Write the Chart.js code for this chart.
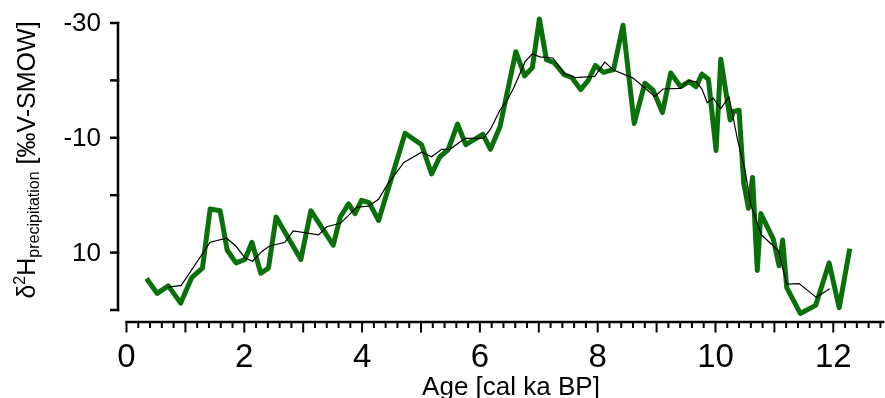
<!DOCTYPE html>
<html>
<head>
<meta charset="utf-8">
<script src="https://cdn.jsdelivr.net/npm/chart.js@4.4.1/dist/chart.umd.min.js"></script>
<style>
  html, body { margin: 0; padding: 0; background: #fff; }
  #wrap { width: 885px; height: 398px; }
</style>
</head>
<body>
<div id="wrap"><canvas id="c" width="885" height="398"></canvas></div>
<script>
// Reconstructed precipitation δ2H record (age in cal ka BP, value in ‰ V-SMOW)
const ageRecord = [0.34, 0.52, 0.71, 0.92, 1.11, 1.29, 1.42, 1.59, 1.71, 1.86,
  2.01, 2.13, 2.28, 2.41, 2.54, 2.96, 3.13, 3.51, 3.63, 3.77,
  3.88, 3.99, 4.12, 4.28, 4.73, 5.01, 5.18, 5.32, 5.46, 5.62,
  5.76, 6.05, 6.18, 6.34, 6.61, 6.76, 6.89, 7.01, 7.13, 7.26,
  7.43, 7.56, 7.71, 7.84, 7.96, 8.10, 8.27, 8.43, 8.62, 8.80,
  8.94, 9.10, 9.24, 9.41, 9.55, 9.67, 9.77, 9.88, 10.01, 10.09,
  10.25, 10.31, 10.40, 10.48, 10.56, 10.63, 10.71, 10.77, 10.98, 11.08,
  11.14, 11.21, 11.44, 11.70, 11.93, 12.10, 12.28];
const dHRecord = [14.5, 17.1, 15.8, 18.8, 14.3, 12.7, 2.4, 2.7, 9.6, 11.8,
  11.2, 8.2, 13.6, 12.7, 3.8, 11.2, 2.7, 8.7, 3.8, 1.5,
  3.2, 0.9, 1.3, 4.4, -10.8, -8.8, -3.7, -6.7, -7.9, -12.4,
  -8.8, -10.6, -8.0, -11.9, -25.0, -20.8, -22.2, -30.7, -23.6, -23.1,
  -21.0, -20.5, -18.4, -20.0, -22.6, -21.4, -21.9, -29.6, -12.5, -19.5,
  -18.3, -14.4, -21.3, -18.9, -19.8, -18.9, -21.1, -20.2, -7.8, -23.7,
  -13.1, -14.6, -14.8, -2.1, 2.3, -3.1, 13.1, 3.2, 7.6, 12.3,
  7.8, 16.1, 20.6, 19.2, 11.8, 19.6, 9.3];

// Smoothed curve of the same record
const ageSmooth = [0.71, 0.93, 1.42, 1.70, 1.86, 2.01, 2.14, 2.30, 2.42, 2.69,
  2.83, 3.26, 3.40, 3.63, 3.91, 4.11, 4.28, 4.42, 4.71, 5.01,
  5.18, 5.35, 5.49, 5.75, 6.06, 6.18, 6.34, 6.46, 6.57, 6.77,
  6.89, 7.02, 7.24, 7.43, 7.62, 7.95, 8.12, 8.27, 8.60, 8.97,
  9.11, 9.40, 9.55, 9.68, 9.77, 9.86, 9.96, 10.09, 10.23, 10.38,
  10.50, 10.60, 10.78, 11.07, 11.21, 11.42, 11.71, 11.94];
const dHSmooth = [16.0, 15.7, 8.2, 7.5, 8.9, 10.9, 11.5, 9.8, 8.9, 8.2,
  6.2, 6.9, 5.5, 4.9, 2.1, 1.9, 0.7, -1.7, -5.7, -7.5,
  -6.7, -8.0, -8.0, -9.9, -9.9, -11.5, -14.8, -16.5, -18.6, -23.3,
  -24.6, -24.1, -23.9, -21.2, -20.5, -20.7, -23.2, -21.8, -20.4, -17.2,
  -18.5, -18.6, -20.0, -19.7, -18.5, -16.1, -16.9, -15.1, -17.1, -9.4,
  -4.4, 1.7, 6.9, 9.7, 15.5, 15.4, 17.8, 16.3];

// Axis ticks
const xRange = [0, 12.8];
const xMajorTicks = [0, 1, 2, 3, 4, 5, 6, 7, 8, 9, 10, 11, 12];
const xTickLabels = ['0', '2', '4', '6', '8', '10', '12'];
const yRange = [-30, 20];
const yTicks = [-30, -20, -10, 0, 10, 20];
const yTickLabels = ['-30', '-10', '10'];

const FONT = '"Liberation Sans", Arial, Helvetica, sans-serif';

function toPoints(xs, ys) {
  return xs.map((v, i) => ({ x: v, y: ys[i] }));
}

// Detached axes drawn along the chart's own scales
const offsetAxes = {
  id: 'offsetAxes',
  afterDraw(chart) {
    const { ctx, chartArea, scales } = chart;
    const x = scales.x, y = scales.y;
    ctx.save();
    ctx.strokeStyle = '#000';
    ctx.fillStyle = '#000';
    ctx.lineWidth = 2.5;
    ctx.lineCap = 'butt';

    // vertical axis
    const ax = chartArea.left - 8.5;
    const yTop = y.getPixelForValue(yRange[0]);
    const yBot = y.getPixelForValue(yRange[1]);
    ctx.beginPath();
    ctx.moveTo(ax, yTop - 1.25);
    ctx.lineTo(ax, yBot + 1.25);
    ctx.stroke();
    yTicks.forEach(v => {
      const py = y.getPixelForValue(v);
      ctx.beginPath();
      ctx.moveTo(ax + 1.25, py);
      ctx.lineTo(ax - 8, py);
      ctx.stroke();
    });
    ctx.font = '26px ' + FONT;
    ctx.textAlign = 'right';
    ctx.textBaseline = 'middle';
    yTickLabels.forEach(t => {
      ctx.fillText(t, ax - 17, y.getPixelForValue(Number(t)) + 1);
    });

    // horizontal axis
    const ay = chartArea.bottom + 12;
    const x0 = x.getPixelForValue(xRange[0]);
    const x1 = x.getPixelForValue(xRange[1]);
    ctx.beginPath();
    ctx.moveTo(x0 - 1.25, ay);
    ctx.lineTo(x1 + 4, ay);
    ctx.stroke();
    ctx.lineWidth = 2;
    for (let k = 0; k <= Math.round((xRange[1] - xRange[0]) * 5); k++) {
      const v = xRange[0] + k * 0.2;
      const isMajor = xMajorTicks.some(m => Math.abs(m - v) < 1e-6);
      const px = x.getPixelForValue(v);
      ctx.beginPath();
      ctx.moveTo(px, ay);
      ctx.lineTo(px, ay + (isMajor ? 10.5 : 6));
      ctx.stroke();
    }
    ctx.font = '33px ' + FONT;
    ctx.textAlign = 'center';
    ctx.textBaseline = 'alphabetic';
    xTickLabels.forEach(t => {
      ctx.fillText(t, x.getPixelForValue(Number(t)), ay + 45);
    });

    // axis titles
    ctx.font = '26px ' + FONT;
    ctx.fillText('Age [cal ka BP]', 511, 395);

    const parts = [
      { t: 'δ', size: 25, dy: 0 },
      { t: '2', size: 16, dy: -10 },
      { t: 'H', size: 25, dy: 0 },
      { t: 'precipitation', size: 16, dy: 4 },
      { t: ' [‰V-SMOW]', size: 25, dy: 0 }
    ];
    let total = 0;
    parts.forEach(p => { ctx.font = p.size + 'px ' + FONT; p.w = ctx.measureText(p.t).width; total += p.w; });
    ctx.translate(35, 160);
    ctx.rotate(-Math.PI / 2);
    ctx.textAlign = 'left';
    let cx = -total / 2;
    parts.forEach(p => {
      ctx.font = p.size + 'px ' + FONT;
      ctx.fillText(p.t, cx, p.dy);
      cx += p.w;
    });
    ctx.restore();
  }
};

new Chart(document.getElementById('c'), {
  type: 'line',
  data: {
    datasets: [
      {
        label: 'smoothed',
        data: toPoints(ageSmooth, dHSmooth),
        borderColor: '#000000',
        borderWidth: 1.2,
        pointRadius: 0,
        tension: 0,
        order: 0,
        clip: false
      },
      {
        label: 'δ2H precipitation',
        data: toPoints(ageRecord, dHRecord),
        borderColor: '#0a710a',
        borderWidth: 5,
        borderJoinStyle: 'round',
        pointRadius: 0,
        tension: 0,
        order: 1,
        clip: false
      }
    ]
  },
  options: {
    responsive: false,
    animation: false,
    devicePixelRatio: 1,
    parsing: true,
    layout: { padding: { left: 126.5, right: 4.6, top: 23, bottom: 88 } },
    scales: {
      x: { type: 'linear', min: xRange[0], max: xRange[1], display: false },
      y: { type: 'linear', min: yRange[0], max: yRange[1], reverse: true, display: false }
    },
    plugins: {
      legend: { display: false },
      tooltip: { enabled: false }
    }
  },
  plugins: [offsetAxes]
});
</script>
</body>
</html>
